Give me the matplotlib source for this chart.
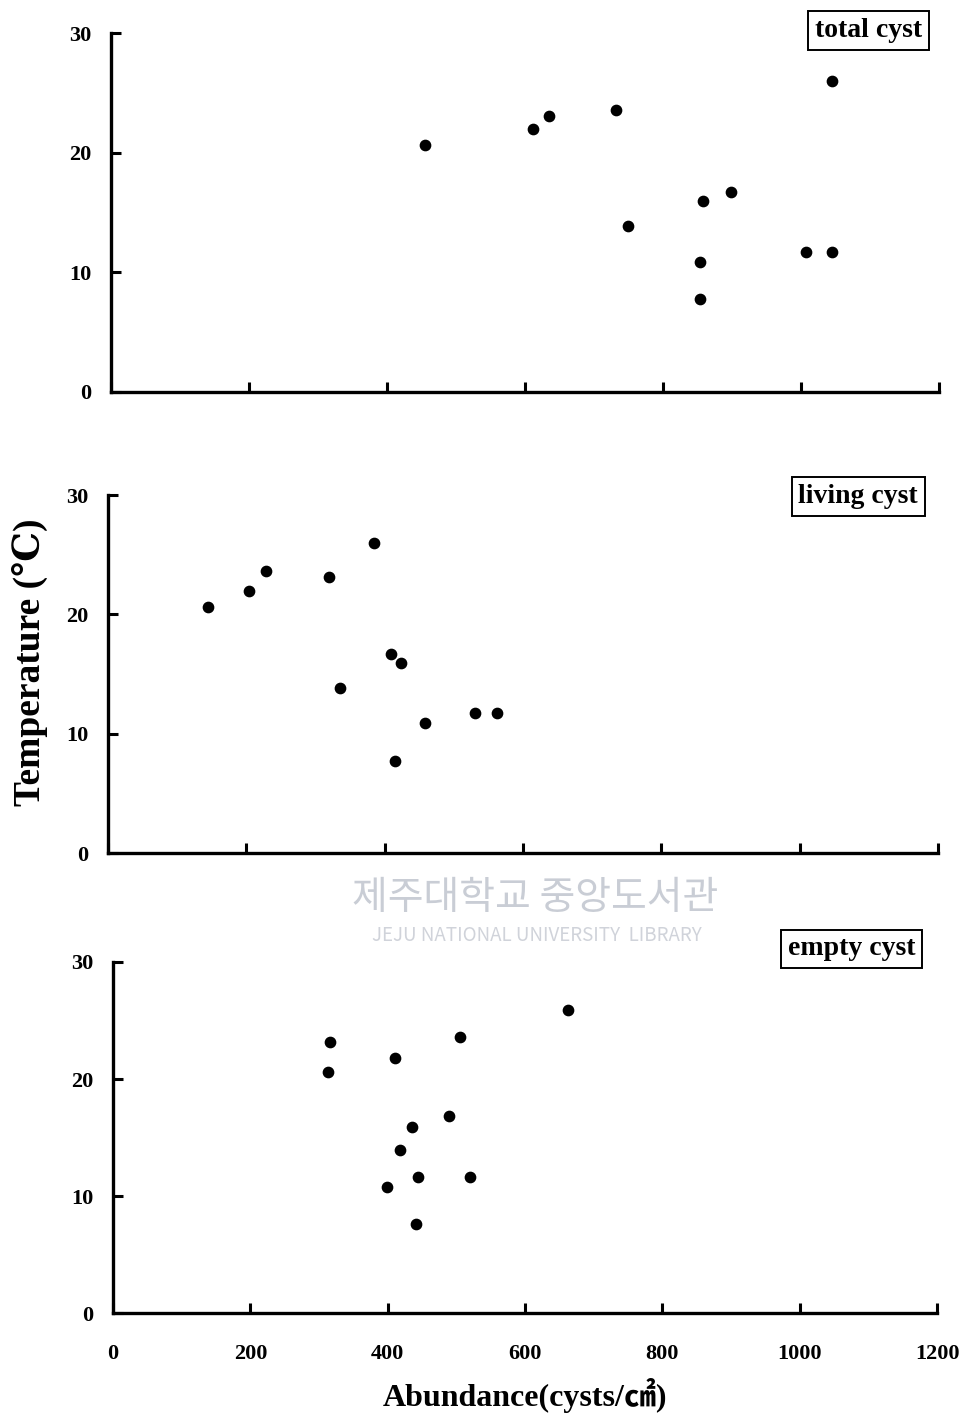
import matplotlib

matplotlib.use("Agg")
import matplotlib.pyplot as plt

# abundance (cysts/cm2) and water temperature (C) per sample
total_abund = [455, 612, 635, 732, 750, 854, 854, 858, 898, 1007, 1045, 1045]
total_temp = [20.6, 22.0, 23.1, 23.6, 13.9, 7.8, 10.9, 16.0, 16.7, 11.7, 26.0, 11.7]

living_abund = [145, 204, 228, 319, 384, 335, 409, 423, 458, 415, 530, 563]
living_temp = [20.6, 22.0, 23.6, 23.1, 26.0, 13.8, 16.7, 15.9, 10.9, 7.7, 11.7, 11.7]

empty_abund = [313, 316, 410, 505, 662, 490, 435, 418, 444, 399, 520, 441]
empty_temp = [20.6, 23.2, 21.8, 23.6, 25.9, 16.8, 15.9, 13.9, 11.6, 10.8, 11.6, 7.6]

x_ticks = [0, 200, 400, 600, 800, 1000, 1200]
y_ticks = [0, 10, 20, 30]

SERIF = ["Liberation Serif", "DejaVu Serif"]
plt.rcParams["font.family"] = SERIF
plt.rcParams["font.weight"] = "bold"

fig = plt.figure(figsize=(9.64, 14.18), dpi=100)
fig.patch.set_facecolor("white")

panels = [
    ([0.1151, 0.7236, 0.8589, 0.2531], total_abund, total_temp, "total cyst", (0.915, 1.006)),
    ([0.1120, 0.3984, 0.8610, 0.2525], living_abund, living_temp, "living cyst", (0.904, 0.997)),
    ([0.1172, 0.0740, 0.8548, 0.2476], empty_abund, empty_temp, "empty cyst", (0.896, 1.037)),
]

for i, (rect, xs, ys, name, pos) in enumerate(panels):
    ax = fig.add_axes(rect)
    ax.scatter(xs, ys, s=55, color="black", zorder=3, clip_on=False)
    ax.set_xlim(0, 1200)
    ax.set_ylim(0, 30)
    ax.set_xticks(x_ticks)
    ax.set_yticks(y_ticks)
    for side in ("top", "right"):
        ax.spines[side].set_visible(False)
    for side in ("left", "bottom"):
        ax.spines[side].set_linewidth(2.4)
        ax.spines[side].set_color("black")
    ax.tick_params(axis="both", direction="in", length=7, width=2.2, colors="black")
    ax.tick_params(axis="y", pad=14, labelsize=16)
    ax.tick_params(axis="x", pad=22, labelsize=16)
    for lab in ax.get_yticklabels() + ax.get_xticklabels():
        lab.set_fontweight("bold")
    if i < 2:
        ax.tick_params(axis="x", labelbottom=False)
    ax.text(pos[0], pos[1], name, transform=ax.transAxes, ha="center", va="center",
            fontsize=20, fontweight="bold", color="black",
            bbox=dict(boxstyle="square,pad=0.25", facecolor="white", edgecolor="black", linewidth=1.4))

fig.text(0.031, 0.533, "Temperature (\u2103)", rotation=90, ha="center", va="center",
         fontsize=27, fontweight="bold", family=SERIF)
fig.text(0.545, 0.016, "Abundance(cysts/\u33a0)", ha="center", va="center",
         fontsize=23, fontweight="bold", family=["Liberation Serif", "Noto Sans CJK KR"])

# faint library watermark
fig.text(0.555, 0.367, "\uc81c\uc8fc\ub300\ud559\uad50 \uc911\uc559\ub3c4\uc11c\uad00", ha="center", va="center",
         fontsize=28, color="#c9cdd5", family=["Noto Sans CJK KR"], fontweight="normal")
fig.text(0.557, 0.340, "JEJU NATIONAL UNIVERSITY  LIBRARY", ha="center", va="center",
         fontsize=13.5, color="#d0d3da", family=["Noto Sans CJK KR"], fontweight="normal")

fig.savefig("out.png", dpi=100, facecolor="white")
